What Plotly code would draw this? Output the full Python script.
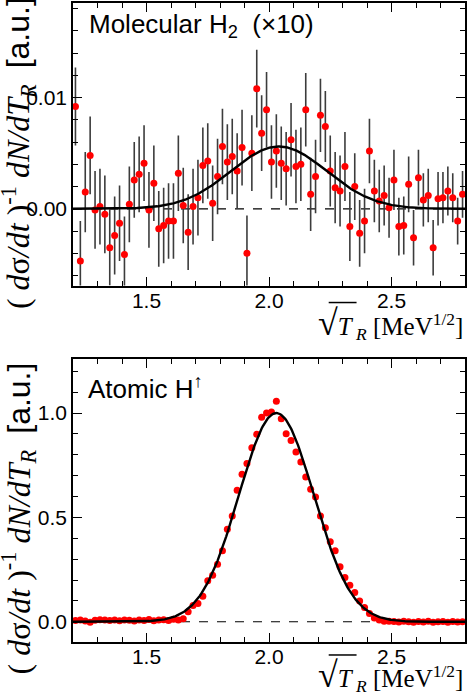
import numpy as np
import plotly.graph_objects as go

# ---------------- data ----------------
x_bins = [1.21, 1.23, 1.25, 1.27, 1.29, 1.31, 1.33, 1.35, 1.37, 1.39,
          1.41, 1.43, 1.45, 1.47, 1.49, 1.51, 1.53, 1.55, 1.57, 1.59,
          1.61, 1.63, 1.65, 1.67, 1.69, 1.71, 1.73, 1.75, 1.77, 1.79,
          1.81, 1.83, 1.85, 1.87, 1.89, 1.91, 1.93, 1.95, 1.97, 1.99,
          2.01, 2.03, 2.05, 2.07, 2.09, 2.11, 2.13, 2.15, 2.17, 2.19,
          2.21, 2.23, 2.25, 2.27, 2.29, 2.31, 2.33, 2.35, 2.37, 2.39,
          2.41, 2.43, 2.45, 2.47, 2.49, 2.51, 2.53, 2.55, 2.57, 2.59,
          2.61, 2.63, 2.65, 2.67, 2.69, 2.71, 2.73, 2.75, 2.77, 2.79]

mol_values = [0.0092, -0.0047, 0.0015, 0.0048, -0.0001, 0.0002, -0.0005, -0.0035, -0.0024, -0.0013,
              -0.0041, 0.0004, 0.0026, 0.0031, 0.0041, -0.0001, 0.0023, -0.0018, -0.0015, -0.0011,
              -0.0011, 0.0032, 0.0003, -0.0021, 0.0002, 0.0010, 0.0039, 0.0043, 0.0005, 0.0029,
              0.0056, 0.0042, 0.0047, 0.0034, 0.0055, -0.0040, 0.0050, 0.0108, 0.0068, 0.0089,
              0.0042, 0.0052, 0.0041, 0.0036, 0.0062, 0.0038, 0.0040, 0.0089, 0.0013, 0.0029,
              0.0084, 0.0074, 0.0034, 0.0019, 0.0016, 0.0038, -0.0016, 0.0020, -0.0022, -0.0011,
              0.0052, 0.0016, 0.0007, 0.0012, 0.0001, 0.0026, -0.0016, -0.0015, 0.0022, -0.0026,
              0.0028, 0.0008, 0.0012, -0.0035, 0.0009, 0.0010, 0.0016, 0.0010, -0.0011, 0.0013]

mol_errors = [0.0035, 0.0036, 0.0036, 0.0035, 0.0035, 0.0034, 0.0035, 0.0034, 0.0035, 0.0034,
              0.0034, 0.0034, 0.0034, 0.0034, 0.0034, 0.0034, 0.0034, 0.0034, 0.0034, 0.0034,
              0.0034, 0.0034, 0.0034, 0.0034, 0.0034, 0.0034, 0.0034, 0.0034, 0.0034, 0.0034,
              0.0034, 0.0034, 0.0034, 0.0034, 0.0034, 0.0034, 0.0034, 0.0035, 0.0034, 0.0034,
              0.0033, 0.0033, 0.0033, 0.0033, 0.0033, 0.0033, 0.0033, 0.0033, 0.0033, 0.0033,
              0.0033, 0.0032, 0.0032, 0.0032, 0.0032, 0.0031, 0.0031, 0.0030, 0.0030, 0.0029,
              0.0029, 0.0028, 0.0028, 0.0027, 0.0027, 0.0027, 0.0026, 0.0026, 0.0025, 0.0025,
              0.0025, 0.0024, 0.0024, 0.0025, 0.0024, 0.0023, 0.0022, 0.0022, 0.0021, 0.0021]

atom_values = [0.006, 0.008, 0.004, -0.002, 0.007, 0.010, 0.009, 0.006, 0.008, 0.005,
               0.009, 0.007, 0.004, 0.008, 0.006, 0.011, 0.005, 0.009, 0.010, 0.006,
               0.012, 0.008, 0.015, 0.048, 0.078, 0.088, 0.122, 0.196, 0.223, 0.276,
               0.340, 0.443, 0.507, 0.630, 0.707, 0.758, 0.834, 0.898, 0.980, 1.000,
               1.005, 1.057, 0.973, 0.901, 0.869, 0.813, 0.766, 0.694, 0.635, 0.598,
               0.507, 0.450, 0.383, 0.340, 0.263, 0.212, 0.175, 0.140, 0.100, 0.068,
               0.040, 0.018, 0.008, 0.003, 0.002, 0.001, -0.001, 0.002, 0.000, -0.002,
               0.001, -0.001, 0.002, -0.002, 0.000, 0.001, -0.002, 0.001, -0.001, 0.000]

# Gaussian fit parameters (amplitude, centre, width)
mol_fit = dict(amp=0.0056, mu=2.04, sigma=0.195)
atom_fit = dict(amp=1.0, mu=2.03, sigma=0.153)

x_ticks = [1.5, 2.0, 2.5]
mol_yticks = [0.0, 0.01]
mol_yticktext = ["0.00", "0.01"]
atom_yticks = [0.0, 0.5, 1.0]
atom_yticktext = ["0.0", "0.5", "1.0"]

# ---------------- figure ----------------
W, H = 468, 694
ML, MR, MT, MB = 73, 1, 2, 52
PH = H - MT - MB


def py(p):
    return (H - MB - p) / PH


def px(p):
    return (p - ML) / (W - ML - MR)


xfine = np.linspace(1.2, 2.8, 400)


def gauss(p):
    return p["amp"] * np.exp(-0.5 * ((xfine - p["mu"]) / p["sigma"]) ** 2)


RED = "#ff0000"
SANS = "Liberation Sans, Arial, Helvetica, sans-serif"
SERIF = "Liberation Serif, Times New Roman, serif"

fig = go.Figure()

fig.add_trace(go.Scatter(
    x=x_bins, y=mol_values, mode="markers",
    marker=dict(color=RED, size=7, line=dict(width=0)),
    error_y=dict(type="data", array=mol_errors, visible=True,
                 color="#3c3c3c", thickness=1.6, width=0),
    xaxis="x", yaxis="y", showlegend=False))
fig.add_trace(go.Scatter(
    x=xfine, y=gauss(mol_fit), mode="lines",
    line=dict(color="black", width=2.4),
    xaxis="x", yaxis="y", showlegend=False))

fig.add_trace(go.Scatter(
    x=x_bins, y=atom_values, mode="markers",
    marker=dict(color=RED, size=7, line=dict(width=0)),
    xaxis="x2", yaxis="y2", showlegend=False))
fig.add_trace(go.Scatter(
    x=xfine, y=gauss(atom_fit), mode="lines",
    line=dict(color="black", width=2.4),
    xaxis="x2", yaxis="y2", showlegend=False))

axis_common = dict(
    showline=True, linecolor="black", linewidth=1.6, mirror="allticks",
    ticks="inside", ticklen=9, tickwidth=1.4, tickcolor="black",
    showgrid=False, zeroline=False,
    tickfont=dict(family=SANS, size=21, color="black"),
)

fig.update_layout(
    width=W, height=H,
    margin=dict(l=ML, r=MR, t=MT, b=MB),
    paper_bgcolor="white", plot_bgcolor="white",
    xaxis=dict(axis_common, domain=[0, 1], anchor="y", range=[1.2, 2.8],
               tickvals=x_ticks, tickformat=".1f", ticklabelstandoff=-5,
               minor=dict(dtick=0.1, tick0=1.2, ticks="inside", ticklen=5,
                          tickwidth=1.2, tickcolor="black")),
    yaxis=dict(axis_common, domain=[py(285), 1], anchor="x",
               range=[-0.0069, 0.0185],
               tickvals=mol_yticks, ticktext=mol_yticktext,
               minor=dict(dtick=0.002, tick0=0, ticks="inside", ticklen=5,
                          tickwidth=1.2, tickcolor="black")),
    xaxis2=dict(axis_common, domain=[0, 1], anchor="y2", range=[1.2, 2.8],
                tickvals=x_ticks, tickformat=".1f", ticklabelstandoff=-5,
                minor=dict(dtick=0.1, tick0=1.2, ticks="inside", ticklen=5,
                           tickwidth=1.2, tickcolor="black")),
    yaxis2=dict(axis_common, domain=[0, py(359)], anchor="x2",
                range=[-0.097, 1.257],
                tickvals=atom_yticks, ticktext=atom_yticktext,
                minor=dict(dtick=0.1, tick0=0, ticks="inside", ticklen=5,
                           tickwidth=1.2, tickcolor="black")),
)

for yr in ("y", "y2"):
    fig.add_shape(type="line", xref="x domain" if yr == "y" else "x2 domain",
                  yref=yr, x0=0, x1=1, y0=0, y1=0, layer="below",
                  line=dict(color="black", width=1.2, dash="dash"))

# overline of the square-root sign in the x titles
for ytop in (302, 655):
    fig.add_shape(type="line", xref="paper", yref="paper",
                  x0=px(330), x1=px(358), y0=py(ytop), y1=py(ytop),
                  line=dict(color="black", width=1.5))

ytitle = ("( <i>d</i>σ<i>/dt</i> )<sup>-1</sup> <i>dN/dT</i><sub><i>R</i></sub>"
          "  <span style='font-family:Liberation Sans, Arial'>[a.u.]</span>")
xtitle = ("<span style='font-size:36px'>√</span><i>T</i><sub> <i>R</i></sub> [MeV<sup>1/2</sup>]")

annotations = [
    dict(text="Molecular H<sub>2</sub>  (×10)", x=px(87), y=py(25),
         xanchor="left", yanchor="middle",
         font=dict(family=SANS, size=26, color="black")),
    dict(text="Atomic H<sup>↑</sup>", x=px(86), y=py(387),
         xanchor="left", yanchor="middle",
         font=dict(family=SANS, size=26, color="black")),
    dict(text=xtitle, x=1.0, y=py(323), xanchor="right", yanchor="middle",
         font=dict(family=SERIF, size=25, color="black")),
    dict(text=xtitle, x=1.0, y=py(676), xanchor="right", yanchor="middle",
         font=dict(family=SERIF, size=25, color="black")),
    dict(text=ytitle, x=px(18), y=py(152), xanchor="center", yanchor="middle",
         textangle=-90, font=dict(family=SERIF, size=32, color="black")),
    dict(text=ytitle, x=px(18), y=py(518), xanchor="center", yanchor="middle",
         textangle=-90, font=dict(family=SERIF, size=32, color="black")),
]
for a in annotations:
    a.update(xref="paper", yref="paper", showarrow=False)
fig.update_layout(annotations=annotations)

fig.write_html(
    "out.html",
    config={"displayModeBar": False},
    post_script="document.body.style.margin='0';document.body.style.overflow='hidden';",
)
